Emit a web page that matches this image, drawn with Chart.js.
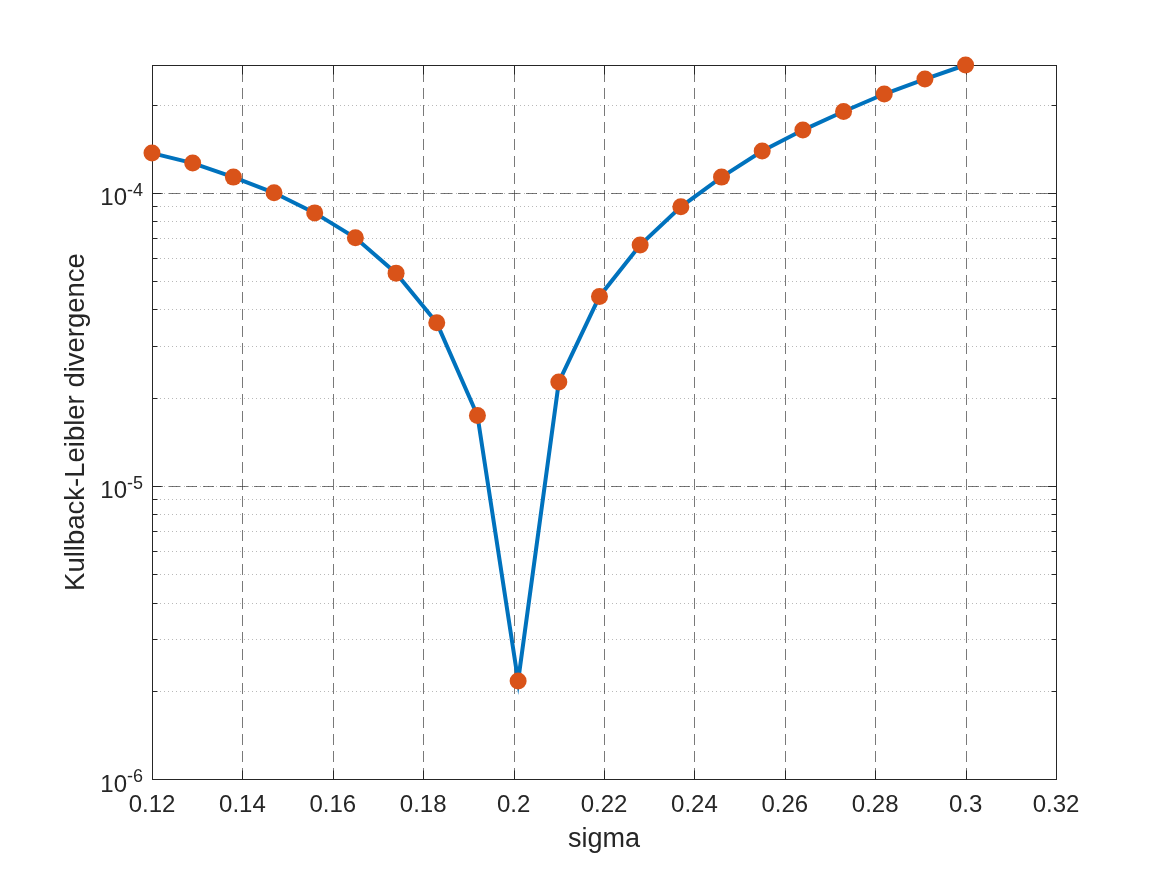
<!DOCTYPE html>
<html lang="en">
<head>
<meta charset="UTF-8">
<title>Kullback-Leibler divergence vs sigma</title>
<style>
    html, body { margin: 0; padding: 0; background: #fff; }
    .chart-wrap { position: relative; width: 1167px; height: 875px; }
</style>
<script src="https://cdn.jsdelivr.net/npm/chart.js@4.4.0/dist/chart.umd.min.js"></script>
</head>
<body>
<div class="chart-wrap"><canvas id="klChart"></canvas></div>
<script>
// values
const sigma = [0.120, 0.129, 0.138, 0.147, 0.156, 0.165, 0.174, 0.183, 0.192, 0.201, 0.210,
               0.219, 0.228, 0.237, 0.246, 0.255, 0.264, 0.273, 0.282, 0.291, 0.300];
const klDiv = [1.366e-4, 1.263e-4, 1.131e-4, 1.0e-4, 8.54e-5, 7.02e-5, 5.32e-5, 3.60e-5, 1.738e-5, 2.16e-6, 2.26e-5,
               4.43e-5, 6.63e-5, 8.96e-5, 1.131e-4, 1.388e-4, 1.637e-4, 1.894e-4, 2.173e-4, 2.443e-4, 2.729e-4];
const xTicks = [0.12, 0.14, 0.16, 0.18, 0.20, 0.22, 0.24, 0.26, 0.28, 0.30, 0.32];
const xTickLabels = ['0.12', '0.14', '0.16', '0.18', '0.2', '0.22', '0.24', '0.26', '0.28', '0.3', '0.32'];
const yDecades = [-6, -5, -4];
const xTitle = 'sigma';
const yTitle = 'Kullback-Leibler divergence';

const FONT = '"Liberation Sans", Arial, Helvetica, sans-serif';
const TEXT = '#262626';

function seg(ctx, x1, y1, x2, y2) {
    ctx.beginPath();
    ctx.moveTo(x1, y1);
    ctx.lineTo(x2, y2);
    ctx.stroke();
}
function isDecade(v) {
    const l = Math.log10(v);
    return Math.abs(l - Math.round(l)) < 1e-6;
}

// matlab-like axes: dotted minor grid, dashed major grid, box with inward ticks
const matlabAxes = {
    id: 'matlabAxes',
    beforeDatasetsDraw(chart) {
        const { ctx, chartArea: a, scales: { x, y } } = chart;
        ctx.save();
        ctx.lineWidth = 1;

        ctx.strokeStyle = 'rgba(38,38,38,0.32)';
        ctx.setLineDash([1, 3]);
        y.ticks.forEach(t => {
            const py = Math.round(y.getPixelForValue(t.value)) + 0.5;
            if (py <= a.top + 1 || py >= a.bottom - 1) return;
            seg(ctx, a.left, py, a.right, py);
        });

        ctx.strokeStyle = 'rgba(38,38,38,0.62)';
        ctx.setLineDash([11, 6]);
        y.ticks.filter(t => isDecade(t.value)).forEach(t => {
            const py = Math.round(y.getPixelForValue(t.value)) + 0.5;
            if (py <= a.top + 1 || py >= a.bottom - 1) return;
            seg(ctx, a.left, py, a.right, py);
        });
        x.ticks.forEach(t => {
            const px = Math.round(x.getPixelForValue(t.value)) + 0.5;
            if (px <= a.left + 1 || px >= a.right - 1) return;
            seg(ctx, px, a.bottom, px, a.top);
        });

        ctx.setLineDash([]);
        ctx.strokeStyle = TEXT;
        const L = Math.round(a.left) + 0.5, R = Math.round(a.right) + 0.5;
        const T = Math.round(a.top) + 0.5, B = Math.round(a.bottom) + 0.5;
        ctx.strokeRect(L, T, R - L, B - T);

        x.ticks.forEach(t => {
            const px = Math.round(x.getPixelForValue(t.value)) + 0.5;
            seg(ctx, px, B, px, B - 9);
            seg(ctx, px, T, px, T + 9);
        });
        y.ticks.forEach(t => {
            const py = Math.round(y.getPixelForValue(t.value)) + 0.5;
            const len = isDecade(t.value) ? 9 : 5;
            seg(ctx, L, py, L + len, py);
            seg(ctx, R, py, R - len, py);
        });
        ctx.restore();
    },
    afterDraw(chart) {
        const { ctx, chartArea: a, scales: { y } } = chart;
        ctx.save();
        ctx.fillStyle = TEXT;
        ctx.textBaseline = 'alphabetic';

        // decade labels 10^e
        yDecades.forEach(e => {
            const py = y.getPixelForValue(Math.pow(10, e));
            const sup = String(e);
            ctx.font = '18px ' + FONT;
            ctx.textAlign = 'right';
            const w = ctx.measureText(sup).width;
            ctx.fillText(sup, 143, py + 3);
            ctx.font = '24px ' + FONT;
            ctx.fillText('10', 143 - w, py + 12.5);
        });

        ctx.font = '27px ' + FONT;
        ctx.textAlign = 'center';
        ctx.fillText(xTitle, (a.left + a.right) / 2, 847);

        ctx.font = '27.5px ' + FONT;
        ctx.translate(84, (a.top + a.bottom) / 2);
        ctx.rotate(-Math.PI / 2);
        ctx.fillText(yTitle, 0, 0);
        ctx.restore();
    }
};

const ctxKL = document.getElementById('klChart').getContext('2d');
new Chart(ctxKL, {
    type: 'line',
    data: {
        datasets: [{
            data: sigma.map((s, i) => ({ x: s, y: klDiv[i] })),
            borderColor: '#0072BD',
            borderWidth: 4,
            pointRadius: 8.5,
            pointHoverRadius: 8.5,
            pointBackgroundColor: '#D95319',
            pointBorderWidth: 0,
            tension: 0,
            clip: false
        }]
    },
    options: {
        responsive: true,
        maintainAspectRatio: false,
        animation: false,
        events: [],
        layout: { padding: { left: 0, top: 65, right: 111, bottom: 0 } },
        plugins: { legend: { display: false }, tooltip: { enabled: false } },
        scales: {
            x: {
                type: 'linear',
                min: 0.12,
                max: 0.32,
                afterBuildTicks: s => { s.ticks = xTicks.map(v => ({ value: v })); },
                afterFit: s => { s.height = 96; },
                grid: { display: false, drawTicks: false },
                border: { display: false },
                ticks: {
                    autoSkip: false,
                    maxRotation: 0,
                    padding: 12,
                    color: TEXT,
                    font: { family: FONT, size: 24 },
                    callback: (v, i) => xTickLabels[i]
                }
            },
            y: {
                type: 'logarithmic',
                min: 1e-6,
                max: Math.max(...klDiv),
                afterBuildTicks: s => {
                    const t = [];
                    yDecades.forEach(e => {
                        for (let n = 1; n <= 9; n++) {
                            const v = n * Math.pow(10, e);
                            if (v <= s.max * 1.0001) t.push({ value: v });
                        }
                    });
                    s.ticks = t;
                },
                afterFit: s => { s.width = 152; },
                grid: { display: false, drawTicks: false },
                border: { display: false },
                ticks: { display: false }
            }
        }
    },
    plugins: [matlabAxes]
});
</script>
</body>
</html>
